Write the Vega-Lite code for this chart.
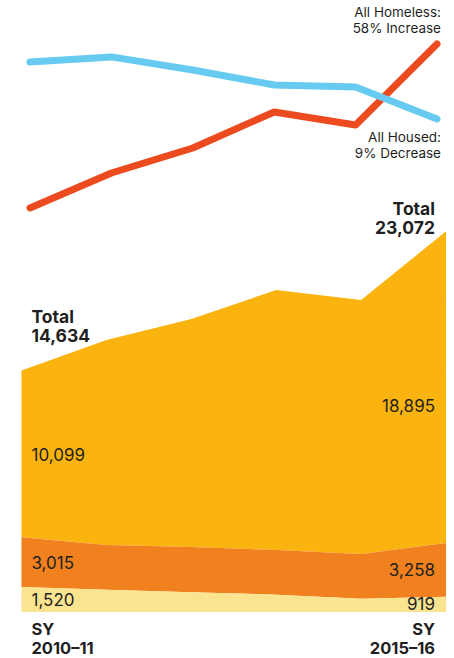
{
  "$schema": "https://vega.github.io/schema/vega-lite/v6.json",
  "width": 454,
  "height": 658,
  "autosize": "none",
  "padding": 0,
  "background": "white",
  "config": {"view": {"stroke": null}, "font": "Inter", "text": {"color": "#1f1f1f"}},
  "datasets": {
    "students": [
      {"year": "2010–11", "start": 2010, "category": "Doubled up", "count": 10099},
      {"year": "2010–11", "start": 2010, "category": "Sheltered", "count": 3015},
      {"year": "2010–11", "start": 2010, "category": "Unsheltered", "count": 1520},
      {"year": "2011–12", "start": 2011, "category": "Doubled up", "count": 12425},
      {"year": "2011–12", "start": 2011, "category": "Sheltered", "count": 2710},
      {"year": "2011–12", "start": 2011, "category": "Unsheltered", "count": 1350},
      {"year": "2012–13", "start": 2012, "category": "Doubled up", "count": 13820},
      {"year": "2012–13", "start": 2012, "category": "Sheltered", "count": 2740},
      {"year": "2012–13", "start": 2012, "category": "Unsheltered", "count": 1200},
      {"year": "2013–14", "start": 2013, "category": "Doubled up", "count": 15755},
      {"year": "2013–14", "start": 2013, "category": "Sheltered", "count": 2710},
      {"year": "2013–14", "start": 2013, "category": "Unsheltered", "count": 1050},
      {"year": "2014–15", "start": 2014, "category": "Doubled up", "count": 15395},
      {"year": "2014–15", "start": 2014, "category": "Sheltered", "count": 2715},
      {"year": "2014–15", "start": 2014, "category": "Unsheltered", "count": 800},
      {"year": "2015–16", "start": 2015, "category": "Doubled up", "count": 18895},
      {"year": "2015–16", "start": 2015, "category": "Sheltered", "count": 3258},
      {"year": "2015–16", "start": 2015, "category": "Unsheltered", "count": 919}
    ],
    "trend": [
      {"start": 2010, "series": "All Homeless", "index": 6.7},
      {"start": 2011, "series": "All Homeless", "index": 26.1},
      {"start": 2012, "series": "All Homeless", "index": 40.0},
      {"start": 2013, "series": "All Homeless", "index": 60.0},
      {"start": 2014, "series": "All Homeless", "index": 52.8},
      {"start": 2015, "series": "All Homeless", "index": 97.8},
      {"start": 2010, "series": "All Housed", "index": 87.8},
      {"start": 2011, "series": "All Housed", "index": 90.6},
      {"start": 2012, "series": "All Housed", "index": 83.3},
      {"start": 2013, "series": "All Housed", "index": 75.0},
      {"start": 2014, "series": "All Housed", "index": 73.9},
      {"start": 2015, "series": "All Housed", "index": 56.1}
    ]
  },
  "layer": [
    {
      "data": {"name": "students"},
      "transform": [
        {"stack": "count", "groupby": ["start"], "sort": [{"field": "category", "order": "descending"}], "as": ["y0", "y1"]},
        {"calculate": "(datum.y0 + datum.y1) / 2", "as": "mid"}
      ],
      "encoding": {
        "x": {"field": "start", "type": "quantitative", "scale": {"domain": [2009.747, 2015.094], "nice": false, "zero": false}, "axis": null}
      },
      "layer": [
        {
          "mark": {"type": "area", "interpolate": "linear"},
          "encoding": {
            "y": {"field": "y1", "type": "quantitative", "scale": {"domain": [-2788, 37091], "nice": false, "zero": false}, "axis": null},
            "y2": {"field": "y0"},
            "color": {"field": "category", "type": "nominal", "legend": null,
              "scale": {"domain": ["Doubled up", "Sheltered", "Unsheltered"], "range": ["#FBB40F", "#F0811E", "#FAE490"]}}
          }
        },
        {
          "transform": [{"filter": "datum.start == 2010"}],
          "mark": {"type": "text", "align": "left", "baseline": "middle", "dx": 10, "dy": 2, "fontSize": 17},
          "encoding": {
            "y": {"field": "mid", "type": "quantitative"},
            "text": {"field": "count", "type": "quantitative", "format": ","}
          }
        },
        {
          "transform": [{"filter": "datum.start == 2015 && datum.category != 'Doubled up'"}],
          "mark": {"type": "text", "align": "right", "baseline": "middle", "dx": -11, "dy": 1, "fontSize": 17},
          "encoding": {
            "y": {"field": "mid", "type": "quantitative"},
            "text": {"field": "count", "type": "quantitative", "format": ","}
          }
        },
        {
          "transform": [{"filter": "datum.start == 2015 && datum.category == 'Doubled up'"}],
          "mark": {"type": "text", "align": "right", "baseline": "middle", "dx": -11, "dy": 20, "fontSize": 17},
          "encoding": {
            "y": {"field": "mid", "type": "quantitative"},
            "text": {"field": "count", "type": "quantitative", "format": ","}
          }
        },
        {
          "transform": [
            {"aggregate": [{"op": "sum", "field": "count", "as": "total"}], "groupby": ["start"]},
            {"filter": "datum.start == 2010"},
            {"calculate": "['Total', format(datum.total, ',')]", "as": "lbl"}
          ],
          "mark": {"type": "text", "align": "left", "baseline": "bottom", "dx": 10, "dy": -44, "fontSize": 17.5, "fontWeight": "bold", "lineHeight": 19},
          "encoding": {
            "y": {"field": "total", "type": "quantitative"},
            "text": {"field": "lbl"}
          }
        },
        {
          "transform": [
            {"aggregate": [{"op": "sum", "field": "count", "as": "total"}], "groupby": ["start"]},
            {"filter": "datum.start == 2015"},
            {"calculate": "['Total', format(datum.total, ',')]", "as": "lbl"}
          ],
          "mark": {"type": "text", "align": "right", "baseline": "bottom", "dx": -11, "dy": -12, "fontSize": 17.5, "fontWeight": "bold", "lineHeight": 19},
          "encoding": {
            "y": {"field": "total", "type": "quantitative"},
            "text": {"field": "lbl"}
          }
        },
        {
          "transform": [
            {"filter": "datum.start == 2010 && datum.category == 'Unsheltered'"},
            {"calculate": "['SY', datum.year]", "as": "lbl"}
          ],
          "mark": {"type": "text", "align": "left", "baseline": "top", "dx": 10, "dy": 10, "fontSize": 16.5, "fontWeight": "bold", "lineHeight": 19},
          "encoding": {
            "y": {"datum": 0, "type": "quantitative"},
            "text": {"field": "lbl"}
          }
        },
        {
          "transform": [
            {"filter": "datum.start == 2015 && datum.category == 'Unsheltered'"},
            {"calculate": "['SY', datum.year]", "as": "lbl"}
          ],
          "mark": {"type": "text", "align": "right", "baseline": "top", "dx": -11, "dy": 10, "fontSize": 16.5, "fontWeight": "bold", "lineHeight": 19},
          "encoding": {
            "y": {"datum": 0, "type": "quantitative"},
            "text": {"field": "lbl"}
          }
        }
      ]
    },
    {
      "data": {"name": "trend"},
      "encoding": {
        "x": {"field": "start", "type": "quantitative", "scale": {"domain": [2009.6314, 2015.2088], "nice": false, "zero": false}, "axis": null},
        "y": {"field": "index", "type": "quantitative", "scale": {"domain": [-243.3, 122.2], "nice": false, "zero": false}, "axis": null}
      },
      "layer": [
        {
          "mark": {"type": "line", "strokeWidth": 7, "strokeCap": "round", "strokeJoin": "round"},
          "encoding": {
            "color": {"field": "series", "type": "nominal", "legend": null,
              "scale": {"domain": ["All Homeless", "All Housed"], "range": ["#EC4A1F", "#67CBF1"]}}
          }
        },
        {
          "transform": [{"filter": "datum.start == 2015 && datum.series == 'All Homeless'"}],
          "mark": {"type": "text", "align": "right", "baseline": "bottom", "dx": 4, "dy": -24, "fontSize": 13.5, "lineHeight": 16, "text": ["All Homeless:", "58% Increase"]}
        },
        {
          "transform": [{"filter": "datum.start == 2015 && datum.series == 'All Housed'"}],
          "mark": {"type": "text", "align": "right", "baseline": "top", "dx": 4, "dy": 12, "fontSize": 13.5, "lineHeight": 16, "text": ["All Housed:", "9% Decrease"]}
        }
      ]
    }
  ],
  "resolve": {"scale": {"x": "independent", "y": "independent", "color": "independent"}}
}
